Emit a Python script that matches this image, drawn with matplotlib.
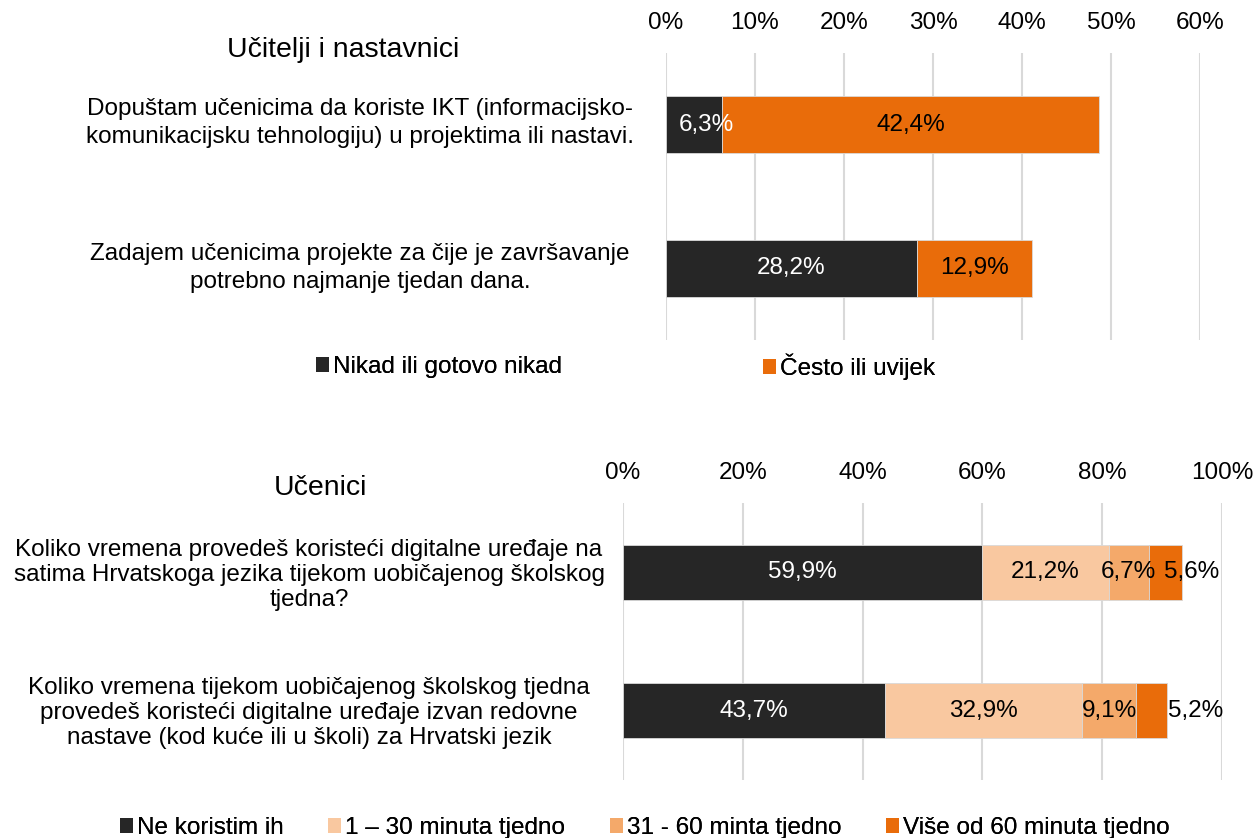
import matplotlib
matplotlib.use("Agg")
import matplotlib.pyplot as plt
import numpy as np

plt.rcParams["font.family"] = ["Liberation Sans", "DejaVu Sans"]

# top chart: teachers
TITLE_TOP = "Učitelji i nastavnici"
cats_top = ["Dopuštam učenicima da koriste IKT (informacijsko-\nkomunikacijsku tehnologiju) u projektima ili nastavi.",
            "Zadajem učenicima projekte za čije je završavanje\npotrebno najmanje tjedan dana."]
series_top = ["Nikad ili gotovo nikad", "Često ili uvijek"]
vals_top = [[6.3, 28.2],
            [42.4, 12.9]]
colors_top = ["#262626", "#E96C0A"]
txtcol_top = ["white", "black"]
ticks_top = [0, 10, 20, 30, 40, 50, 60]

# bottom chart: students
TITLE_BOT = "Učenici"
cats_bot = ["Koliko vremena provedeš koristeći digitalne uređaje na\nsatima Hrvatskoga jezika tijekom uobičajenog školskog\ntjedna?",
            "Koliko vremena tijekom uobičajenog školskog tjedna\nprovedeš koristeći digitalne uređaje izvan redovne\nnastave (kod kuće ili u školi) za Hrvatski jezik"]
series_bot = ["Ne koristim ih", "1 – 30 minuta tjedno", "31 - 60 minta tjedno", "Više od 60 minuta tjedno"]
vals_bot = [[59.9, 43.7],
            [21.2, 32.9],
            [6.7, 9.1],
            [5.6, 5.2]]
colors_bot = ["#262626", "#F9C8A0", "#F4A96A", "#E96C0A"]
txtcol_bot = ["white", "black", "black", "black"]
ticks_bot = [0, 20, 40, 60, 80, 100]

# label nudges (pixels), like the hand-moved labels in the original
nudge_top = [[12, 0], [0, 0]]
nudge_bot = [[0, 0], [0, 0], [0, 0], [26, 44]]

W, H = 1253, 838
fig = plt.figure(figsize=(W / 100, H / 100), dpi=100)
FS = 17.5


def px_axes(x0, y0, x1, y1):
    return fig.add_axes([x0 / W, 1 - y1 / H, (x1 - x0) / W, (y1 - y0) / H])


def stacked(ax, cats, series, vals, colors, txtcols, nudges, ticks, xmax):
    y = np.arange(len(cats))
    left = np.zeros(len(cats))
    bars = []
    for name, v, c, tc, nd in zip(series, vals, colors, txtcols, nudges):
        b = ax.barh(y, v, left=left, height=0.4, color=c, edgecolor="#d9d9d9",
                    linewidth=0.6, label=name, zorder=2)
        for yi, li, vi, dx in zip(y, left, v, nd):
            ax.annotate(f"{vi:.1f}%".replace(".", ","), (li + vi / 2, yi),
                        xytext=(dx * 0.72, 0), textcoords="offset points",
                        ha="center", va="center", color=tc, fontsize=FS, zorder=3)
        left += np.array(v)
        bars.append(b)
    ax.set_xlim(0, xmax)
    ax.set_ylim(1.5, -0.5)
    ax.set_xticks(ticks)
    ax.set_xticklabels([f"{t}%" for t in ticks], fontsize=FS)
    ax.xaxis.tick_top()
    ax.tick_params(axis="x", length=0, pad=14)
    ax.set_yticks([])
    ax.grid(axis="x", color="#d9d9d9", linewidth=1.5, zorder=0)
    for s in ax.spines.values():
        s.set_visible(False)
    return bars


def legend_at(bars, xs, ypx):
    for b, x in zip(bars, xs):
        lg = fig.legend(handles=[b], loc="center left",
                        bbox_to_anchor=(x / W, 1 - ypx / H), frameon=False,
                        fontsize=FS, handlelength=0.55, handleheight=0.55,
                        handletextpad=0.15, borderpad=0, borderaxespad=0)
        for h in lg.legend_handles:
            h.set_edgecolor("none")
        fig.add_artist(lg)


ax1 = px_axes(666, 53, 1200, 340)
b1 = stacked(ax1, cats_top, series_top, vals_top, colors_top, txtcol_top,
             nudge_top, ticks_top, 60)
fig.text(343 / W, 1 - 50 / H, TITLE_TOP, fontsize=20.5, ha="center", va="center")
for i, c in enumerate(cats_top):
    fig.text(360 / W, 1 - [123, 268][i] / H, c, fontsize=FS, ha="center",
             va="center", linespacing=1.3, multialignment="center")
legend_at(b1, [316, 763], 367)

ax2 = px_axes(623, 503, 1222, 780)
b2 = stacked(ax2, cats_bot, series_bot, vals_bot, colors_bot, txtcol_bot,
             nudge_bot, ticks_bot, 100)
fig.text(320 / W, 1 - 488 / H, TITLE_BOT, fontsize=20.5, ha="center", va="center")
for i, c in enumerate(cats_bot):
    fig.text(309 / W, 1 - [575, 713][i] / H, c, fontsize=FS, ha="center",
             va="center", linespacing=1.15, multialignment="center")
legend_at(b2, [120, 328, 610, 886], 828)

fig.savefig("out.png", dpi=100)
